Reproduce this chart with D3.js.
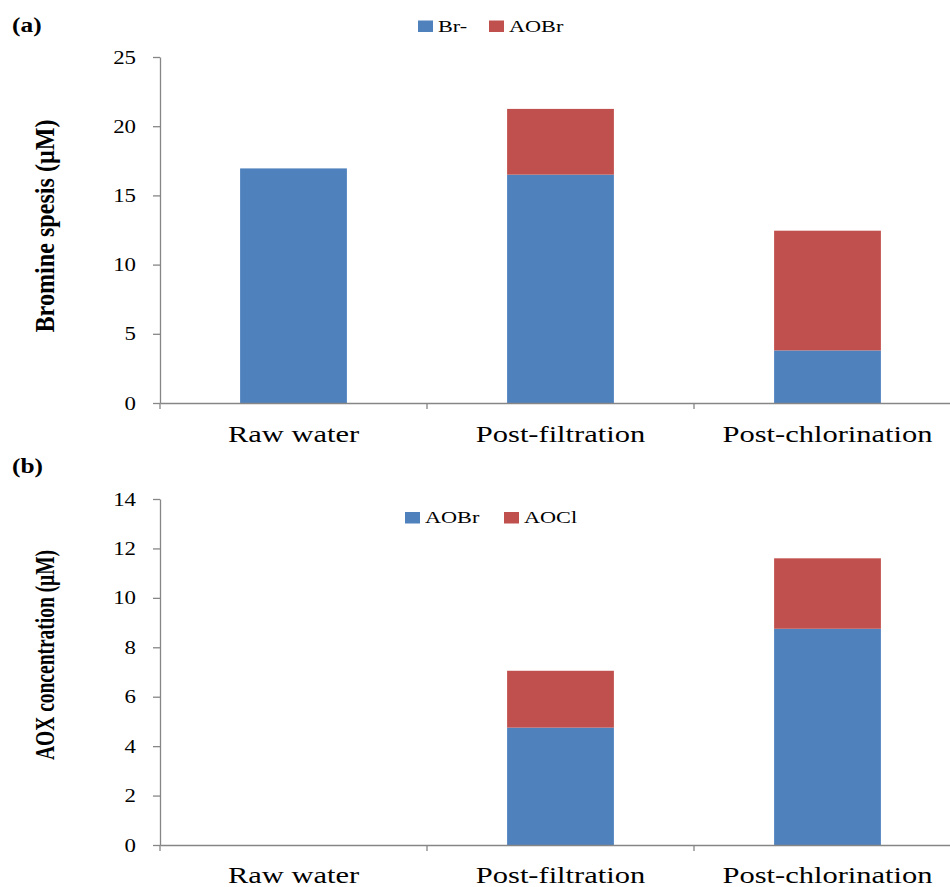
<!DOCTYPE html>
<html>
<head>
<meta charset="utf-8">
<script src="https://cdn.jsdelivr.net/npm/d3@7"></script>
<style>
  html, body { margin: 0; padding: 0; background: #fff; }
  svg { display: block; font-family: "Liberation Serif", "Times New Roman", serif; }
</style>
</head>
<body>
<svg id="chart" width="950" height="887"></svg>
<script>
// Sampling stages shared by both panels
const stages = ["Raw water", "Post-filtration", "Post-chlorination"];

// Panel (a): bromine species (µM)
const seriesA = ["Br-", "AOBr"];
const bromide = [16.95, 16.5, 3.8];
const aobrA = [0, 4.75, 8.65];
const ticksA = [0, 5, 10, 15, 20, 25];

// Panel (b): AOX concentration (µM)
const seriesB = ["AOBr", "AOCl"];
const aobrB = [0, 4.75, 8.75];
const aocl = [0, 2.3, 2.85];
const ticksB = [0, 2, 4, 6, 8, 10, 12, 14];

const colors = ["#4F81BD", "#C0504D"];
const axisColor = "#868686";
const sx = 1.27; // horizontal stretch applied to all lettering

const svg = d3.select("#chart");

function panel(opts) {
  const g = svg.append("g");
  const x = d3.scaleBand().domain(stages).range([160, 961])
    .paddingInner(0.6).paddingOuter(0.3);
  const y = d3.scaleLinear().domain([0, opts.max]).range([opts.y0, opts.y1]);

  // stacked bars
  const rows = stages.map((s, i) => ({ stage: s, a: opts.vals[0][i], b: opts.vals[1][i] }));
  const stack = d3.stack().keys(["a", "b"])(rows);
  stack.forEach((layer, li) => {
    g.append("g").selectAll("rect").data(layer).join("rect")
      .attr("x", d => x(d.data.stage))
      .attr("width", x.bandwidth())
      .attr("y", d => y(d[1]))
      .attr("height", d => Math.max(0, y(d[0]) - y(d[1])))
      .attr("fill", colors[li]);
  });

  // y axis
  const ya = g.append("g").attr("transform", "translate(160,0)")
    .call(d3.axisLeft(y).tickValues(opts.ticks).tickSize(7).tickSizeOuter(0));
  ya.select(".domain").attr("stroke", axisColor).attr("stroke-width", 1.3);
  ya.selectAll(".tick line").attr("stroke", axisColor).attr("stroke-width", 1.3);
  ya.selectAll(".tick text")
    .attr("x", 0).attr("dy", null)
    .attr("dominant-baseline", "central")
    .attr("transform", `translate(-24,0) scale(${sx},1)`)
    .attr("font-size", 18).attr("fill", "#000")
    .attr("font-family", "Liberation Serif, serif");

  // x axis: labels at band centres, ticks at band boundaries
  const xa = g.append("g").attr("transform", `translate(0,${opts.y0})`)
    .call(d3.axisBottom(x).tickSize(0).tickSizeOuter(0));
  xa.select(".domain").attr("stroke", axisColor).attr("stroke-width", 1.3);
  xa.selectAll(".tick text")
    .attr("y", 0).attr("dy", null)
    .attr("transform", `translate(0,${opts.labelDy}) scale(${sx},1)`)
    .attr("font-size", 24).attr("fill", "#000")
    .attr("font-family", "Liberation Serif, serif");
  const half = x.step() * x.paddingInner() / 2;
  const bounds = stages.map(s => x(s) - half).concat([x(stages[2]) + x.bandwidth() + half]);
  g.append("g").selectAll("line").data(bounds).join("line")
    .attr("x1", d => d).attr("x2", d => d)
    .attr("y1", opts.y0).attr("y2", opts.y0 + 6)
    .attr("stroke", axisColor).attr("stroke-width", 1.3);

  // y-axis title
  g.append("text")
    .attr("transform", `translate(${opts.titleX},${opts.titleY}) scale(${sx},1) rotate(-90)`)
    .attr("text-anchor", "middle")
    .attr("dominant-baseline", "central")
    .attr("font-size", 22).attr("font-weight", "bold")
    .attr("textLength", opts.titleLen).attr("lengthAdjust", "spacingAndGlyphs")
    .text(opts.title);

  // panel tag
  g.append("text")
    .attr("transform", `translate(12,${opts.tagY}) scale(${sx},1)`)
    .attr("font-size", 20).attr("font-weight", "bold")
    .text(opts.tag);

  // legend
  const lg = g.append("g");
  opts.legend.forEach((it, i) => {
    lg.append("rect")
      .attr("x", it.x).attr("y", opts.legendY - 11)
      .attr("width", 15).attr("height", 11.5)
      .attr("fill", colors[i]);
    lg.append("text")
      .attr("transform", `translate(${it.x + 20},${opts.legendY}) scale(${sx},1)`)
      .attr("font-size", 17.5)
      .text(opts.series[i]);
  });
}

panel({
  max: 25, y0: 403, y1: 57, ticks: ticksA,
  vals: [bromide, aobrA], series: seriesA,
  labelDy: 39, title: "Bromine spesis (μM)", titleX: 45, titleY: 226, titleLen: 213,
  tag: "(a)", tagY: 32,
  legendY: 31.5, legend: [{ x: 418 }, { x: 489 }]
});

panel({
  max: 14, y0: 845, y1: 499, ticks: ticksB,
  vals: [aobrB, aocl], series: seriesB,
  labelDy: 38, title: "AOX concentration  (μM)", titleX: 45, titleY: 655, titleLen: 210,
  tag: "(b)", tagY: 473,
  legendY: 523, legend: [{ x: 405 }, { x: 504 }]
});
</script>
</body>
</html>
